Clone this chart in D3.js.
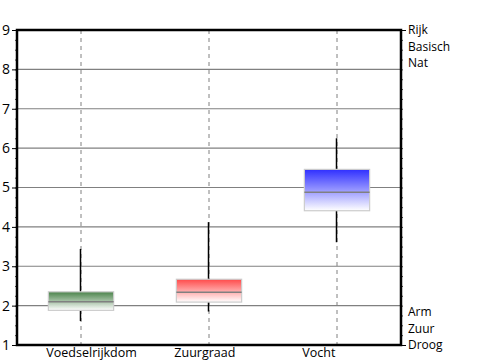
<!DOCTYPE html>
<html>
<head>
<meta charset="utf-8">
<script src="https://cdn.jsdelivr.net/npm/d3@7"></script>
<style>
  html, body { margin: 0; padding: 0; background: #fff; }
  svg { display: block; font-family: "Open Sans", sans-serif; }
</style>
</head>
<body>
<div id="chart"></div>
<script>
const categories = ["Voedselrijkdom", "Zuurgraad", "Vocht"];
const whiskerLow = [1.61, 1.85, 3.61];
const q1 = [1.88, 2.09, 4.41];
const median = [2.1, 2.34, 4.88];
const q3 = [2.35, 2.67, 5.46];
const whiskerHigh = [3.44, 4.12, 6.25];
const yTicks = [1, 2, 3, 4, 5, 6, 7, 8, 9];
const rightLabelValues = [9, 8.58, 8.16, 1.84, 1.42, 1];
const rightLabels = ["Rijk", "Basisch", "Nat", "Arm", "Zuur", "Droog"];
const boxColors = ["#4a834a", "#ff4a4a", "#2f2fff"];

(function () {
const W = 500, H = 360;
const pL = 17, pR = 401, pT = 30, pB = 345;

const svg = d3.select("#chart").append("svg").attr("width", W).attr("height", H);

const x = d3.scaleBand().domain(categories).range([pL, pR]);
const y = d3.scaleLinear().domain([1, 9]).range([pB, pT]);

const data = categories.map((c, i) => ({
  cat: c, lo: whiskerLow[i], q1: q1[i], med: median[i], q3: q3[i], hi: whiskerHigh[i], color: boxColors[i], i
}));

const defs = svg.append("defs");
data.forEach(d => {
  const g = defs.append("linearGradient").attr("id", "grad" + d.i)
    .attr("x1", 0).attr("y1", 0).attr("x2", 0).attr("y2", 1);
  g.append("stop").attr("offset", "0%").attr("stop-color", d.color);
  g.append("stop").attr("offset", "100%").attr("stop-color", "#ffffff");
});

svg.append("g").selectAll("line").data(yTicks.filter(t => t > 1 && t < 9)).join("line")
  .attr("x1", pL).attr("x2", pR)
  .attr("y1", d => y(d)).attr("y2", d => y(d))
  .attr("stroke", "#808080").attr("stroke-width", 1.2);

svg.append("g").selectAll("line").data(categories).join("line")
  .attr("x1", d => x(d) + x.bandwidth() / 2).attr("x2", d => x(d) + x.bandwidth() / 2)
  .attr("y1", pT).attr("y2", pB)
  .attr("stroke", "#808080").attr("stroke-width", 1).attr("stroke-dasharray", "4,4");

const bw = x.bandwidth() * 0.51;
const gBox = svg.append("g");
data.forEach(d => {
  const cx = x(d.cat) + x.bandwidth() / 2;
  gBox.append("line").attr("x1", cx - 0.5).attr("x2", cx - 0.5)
    .attr("y1", y(d.hi)).attr("y2", y(d.q3)).attr("stroke", "#000").attr("stroke-width", 1.5);
  gBox.append("line").attr("x1", cx - 0.5).attr("x2", cx - 0.5)
    .attr("y1", y(d.q1)).attr("y2", y(d.lo)).attr("stroke", "#000").attr("stroke-width", 1.5);
  gBox.append("rect").attr("x", cx - bw / 2).attr("width", bw)
    .attr("y", y(d.q3)).attr("height", y(d.q1) - y(d.q3))
    .attr("fill", "url(#grad" + d.i + ")").attr("stroke", "#cccccc").attr("stroke-width", 1.2);
  gBox.append("line").attr("x1", cx - bw / 2).attr("x2", cx + bw / 2)
    .attr("y1", y(d.med)).attr("y2", y(d.med)).attr("stroke", "#808080").attr("stroke-width", 1.5);
});

const minor = d3.range(1, 9.001, 0.25);
svg.append("g").attr("transform", `translate(${pL},0)`)
  .call(d3.axisLeft(y).tickValues(minor).tickSize(2).tickFormat(""))
  .call(g => g.select(".domain").remove())
  .call(g => g.selectAll("line").attr("stroke", "#444"));
svg.append("g").attr("transform", `translate(${pL},0)`)
  .call(d3.axisLeft(y).tickValues(yTicks).tickSize(5).tickPadding(2).tickFormat(d3.format("d")))
  .call(g => g.select(".domain").remove())
  .call(g => g.selectAll("text").attr("font-size", 14).attr("fill", "#000").attr("font-family", "Open Sans, sans-serif"));

svg.append("g").attr("transform", `translate(${pR},0)`)
  .call(d3.axisRight(y).tickValues(minor).tickSize(2).tickFormat(""))
  .call(g => g.select(".domain").remove())
  .call(g => g.selectAll("line").attr("stroke", "#444"));
svg.append("g").attr("transform", `translate(${pR},0)`)
  .call(d3.axisRight(y).tickValues([9, 1]).tickSize(5).tickFormat(""))
  .call(g => g.select(".domain").remove());
svg.append("g").attr("transform", `translate(${pR},0)`)
  .call(d3.axisRight(y).tickValues(rightLabelValues).tickSize(0).tickPadding(7)
    .tickFormat((d, i) => rightLabels[i]))
  .call(g => g.select(".domain").remove())
  .call(g => g.selectAll("text").attr("font-size", 12).attr("fill", "#000").attr("font-family", "Open Sans, sans-serif"));

// category labels: start-aligned just left of each box
svg.append("g").selectAll("text").data(categories).join("text")
  .attr("x", d => x(d) + x.bandwidth() / 2 - bw / 2 - 2)
  .attr("y", pB + 3)
  .attr("dy", "0.71em")
  .attr("text-anchor", "start")
  .attr("font-size", 12.5)
  .attr("fill", "#000")
  .text(d => d);

svg.append("rect").attr("x", pL).attr("y", pT).attr("width", pR - pL).attr("height", pB - pT)
  .attr("fill", "none").attr("stroke", "#000").attr("stroke-width", 2.5);
})();
</script>
</body>
</html>
